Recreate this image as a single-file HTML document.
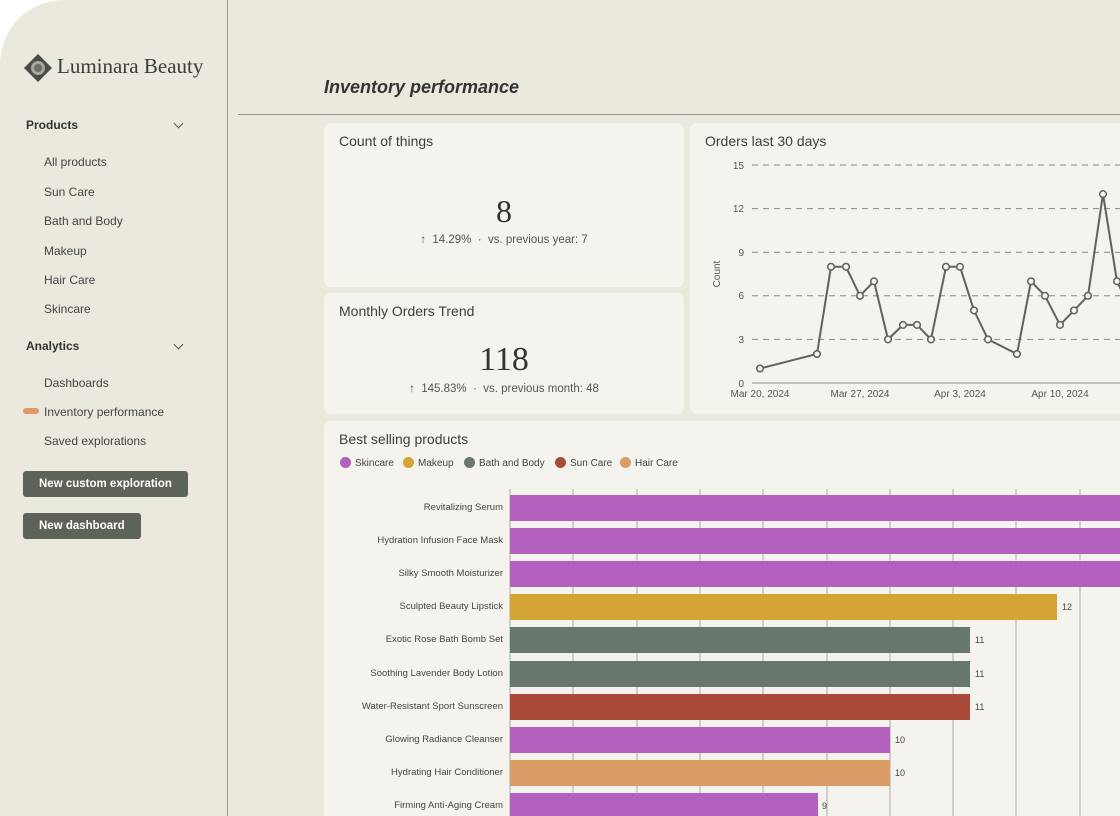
<!DOCTYPE html>
<html><head><meta charset="utf-8"><style>
*{margin:0;padding:0;box-sizing:border-box}
body{width:1120px;height:816px;overflow:hidden;background:#fff;font-family:"Liberation Sans",sans-serif;color:#3a3d38}
#page{position:absolute;left:0;top:0;width:1120px;height:816px;background:#ebe8dd;border-top-left-radius:64px;overflow:hidden}
.a{position:absolute}
.nav{position:absolute;left:44px;font-size:12px;color:#444}
.sec{position:absolute;left:26px;font-size:12px;font-weight:bold;color:#333}
.chev{position:absolute;left:175px;width:7px;height:7px;border-right:1.3px solid #555;border-bottom:1.3px solid #555;transform:rotate(45deg)}
.btn{position:absolute;left:23px;height:26px;background:#5d6358;color:#fff;font-size:11.5px;font-weight:bold;border-radius:3px;line-height:26px;padding:0 16px}
.card{position:absolute;background:#f4f3ee;border-radius:7px}
.ct{position:absolute;left:15px;top:10px;font-size:14px;color:#3d3f3b}
.big{position:absolute;width:100%;text-align:center;font-family:"Liberation Serif",serif;color:#333}
.sub{position:absolute;width:100%;text-align:center;font-size:11.5px;color:#555}
.lab{position:absolute;right:617px;font-size:9.5px;color:#444;text-align:right;white-space:nowrap}
.bar{position:absolute;left:510px;height:26px}
.val{position:absolute;font-size:9px;color:#444}
.leg{position:absolute;top:457px;font-size:10px;color:#444}
.leg i{display:inline-block;width:11px;height:11px;border-radius:50%;vertical-align:-2px;margin-right:4px}
</style></head><body><div id="page">
<div class="a" style="left:227px;top:0;width:1px;height:816px;background:#9a9a90"></div>
<div class="a" style="left:238px;top:114px;width:882px;height:1px;background:#9a9a90"></div>
<svg class="a" style="left:23px;top:53px" width="30" height="30"><polygon points="15,1 29,15 15,29 1,15" fill="#4a4c47"/><circle cx="15" cy="15" r="7" fill="#a7a79d"/><circle cx="15" cy="15" r="4" fill="#6a6c66"/></svg>
<div class="a" style="left:57px;top:54px;font-family:'Liberation Serif',serif;font-size:21px;color:#3a3c38">Luminara Beauty</div>
<div class="sec" style="top:118px">Products</div><div class="chev" style="top:120px"></div>
<div class="nav" style="top:155px">All products</div>
<div class="nav" style="top:185px">Sun Care</div>
<div class="nav" style="top:214px">Bath and Body</div>
<div class="nav" style="top:244px">Makeup</div>
<div class="nav" style="top:273px">Hair Care</div>
<div class="nav" style="top:302px">Skincare</div>
<div class="sec" style="top:339px">Analytics</div><div class="chev" style="top:341px"></div>
<div class="nav" style="top:376px">Dashboards</div>
<div class="a" style="left:23px;top:408px;width:16px;height:6px;border-radius:3px;background:#dc9c65"></div>
<div class="nav" style="top:405px">Inventory performance</div>
<div class="nav" style="top:434px">Saved explorations</div>
<div class="btn" style="top:471px">New custom exploration</div>
<div class="btn" style="top:513px">New dashboard</div>
<div class="a" style="left:324px;top:77px;font-size:18px;font-style:italic;font-weight:bold;color:#333">Inventory performance</div>

<div class="card" style="left:324px;top:123px;width:360px;height:164px"><div class="ct">Count of things</div>
<div class="big" style="top:70px;font-size:32px">8</div><div class="sub" style="top:111px">↑&nbsp; 14.29% &nbsp;·&nbsp; vs. previous year: 7</div></div>
<div class="card" style="left:324px;top:293px;width:360px;height:121px"><div class="ct">Monthly Orders Trend</div>
<div class="big" style="top:48px;font-size:34px">118</div><div class="sub" style="top:90px">↑&nbsp; 145.83% &nbsp;·&nbsp; vs. previous month: 48</div></div>
<div class="card" style="left:690px;top:123px;width:440px;height:291px"><div class="ct">Orders last 30 days</div></div>
<div class="card" style="left:324px;top:421px;width:800px;height:400px"><div class="ct">Best selling products</div></div>

<svg class="a" style="left:0;top:0" width="1120" height="816" font-family="Liberation Sans" font-size="10" fill="#555">
<g stroke="#888" stroke-dasharray="6,5" stroke-width="1">
<line x1="752" y1="165" x2="1120" y2="165"/><line x1="752" y1="208.6" x2="1120" y2="208.6"/><line x1="752" y1="252.2" x2="1120" y2="252.2"/><line x1="752" y1="295.8" x2="1120" y2="295.8"/><line x1="752" y1="339.4" x2="1120" y2="339.4"/></g>
<line x1="752" y1="383" x2="1120" y2="383" stroke="#888"/>
<g text-anchor="end"><text x="744" y="169">15</text><text x="744" y="212">12</text><text x="744" y="256">9</text><text x="744" y="299">6</text><text x="744" y="343">3</text><text x="744" y="387">0</text></g>
<text transform="translate(720,274) rotate(-90)" text-anchor="middle">Count</text>
<g text-anchor="middle"><text x="760" y="397">Mar 20, 2024</text><text x="860" y="397">Mar 27, 2024</text><text x="960" y="397">Apr 3, 2024</text><text x="1060" y="397">Apr 10, 2024</text></g>
<polyline fill="none" stroke="#5f625d" stroke-width="2" points="760,368.5 817,354 831,266.8 846,266.8 860,295.8 874,281.3 888,339.4 903,324.9 917,324.9 931,339.4 946,266.8 960,266.8 974,310.4 988,339.4 1017,354 1031,281.3 1045,295.8 1060,324.9 1074,310.4 1088,295.8 1103,194.1 1117,281.3 1124,295.8"/>
<g fill="#f4f3ee" stroke="#5f625d" stroke-width="1.5">
<circle cx="760" cy="368.5" r="3.3"/><circle cx="817" cy="354" r="3.3"/><circle cx="831" cy="266.8" r="3.3"/><circle cx="846" cy="266.8" r="3.3"/><circle cx="860" cy="295.8" r="3.3"/><circle cx="874" cy="281.3" r="3.3"/><circle cx="888" cy="339.4" r="3.3"/><circle cx="903" cy="324.9" r="3.3"/><circle cx="917" cy="324.9" r="3.3"/><circle cx="931" cy="339.4" r="3.3"/><circle cx="946" cy="266.8" r="3.3"/><circle cx="960" cy="266.8" r="3.3"/><circle cx="974" cy="310.4" r="3.3"/><circle cx="988" cy="339.4" r="3.3"/><circle cx="1017" cy="354" r="3.3"/><circle cx="1031" cy="281.3" r="3.3"/><circle cx="1045" cy="295.8" r="3.3"/><circle cx="1060" cy="324.9" r="3.3"/><circle cx="1074" cy="310.4" r="3.3"/><circle cx="1088" cy="295.8" r="3.3"/><circle cx="1103" cy="194.1" r="3.3"/><circle cx="1117" cy="281.3" r="3.3"/></g>
<g stroke="#aaa"><line x1="510" y1="489" x2="510" y2="816"/><line x1="573" y1="489" x2="573" y2="816"/><line x1="637" y1="489" x2="637" y2="816"/><line x1="700" y1="489" x2="700" y2="816"/><line x1="763" y1="489" x2="763" y2="816"/><line x1="827" y1="489" x2="827" y2="816"/><line x1="890" y1="489" x2="890" y2="816"/><line x1="953" y1="489" x2="953" y2="816"/><line x1="1016" y1="489" x2="1016" y2="816"/><line x1="1080" y1="489" x2="1080" y2="816"/></g>
</svg>
<div class="leg" style="left:340px"><i style="background:#b360be"></i>Skincare</div>
<div class="leg" style="left:403px"><i style="background:#d4a534"></i>Makeup</div>
<div class="leg" style="left:464px"><i style="background:#68776b"></i>Bath and Body</div>
<div class="leg" style="left:555px"><i style="background:#a84a37"></i>Sun Care</div>
<div class="leg" style="left:620px"><i style="background:#dc9c65"></i>Hair Care</div>

<div class="lab" style="top:502px">Revitalizing Serum</div><div class="bar" style="top:495px;width:620px;background:#b360be"></div>
<div class="lab" style="top:535px">Hydration Infusion Face Mask</div><div class="bar" style="top:528px;width:620px;background:#b360be"></div>
<div class="lab" style="top:568px">Silky Smooth Moisturizer</div><div class="bar" style="top:561px;width:620px;background:#b360be"></div>
<div class="lab" style="top:601px">Sculpted Beauty Lipstick</div><div class="bar" style="top:594px;width:547px;background:#d4a534"></div><div class="val" style="left:1062px;top:602px">12</div>
<div class="lab" style="top:634px">Exotic Rose Bath Bomb Set</div><div class="bar" style="top:627px;width:460px;background:#68776b"></div><div class="val" style="left:975px;top:635px">11</div>
<div class="lab" style="top:668px">Soothing Lavender Body Lotion</div><div class="bar" style="top:661px;width:460px;background:#68776b"></div><div class="val" style="left:975px;top:669px">11</div>
<div class="lab" style="top:701px">Water-Resistant Sport Sunscreen</div><div class="bar" style="top:694px;width:460px;background:#a84a37"></div><div class="val" style="left:975px;top:702px">11</div>
<div class="lab" style="top:734px">Glowing Radiance Cleanser</div><div class="bar" style="top:727px;width:380px;background:#b360be"></div><div class="val" style="left:895px;top:735px">10</div>
<div class="lab" style="top:767px">Hydrating Hair Conditioner</div><div class="bar" style="top:760px;width:380px;background:#dc9c65"></div><div class="val" style="left:895px;top:768px">10</div>
<div class="lab" style="top:800px">Firming Anti-Aging Cream</div><div class="bar" style="top:793px;width:308px;background:#b360be"></div><div class="val" style="left:822px;top:801px">9</div>
</div></body></html>
